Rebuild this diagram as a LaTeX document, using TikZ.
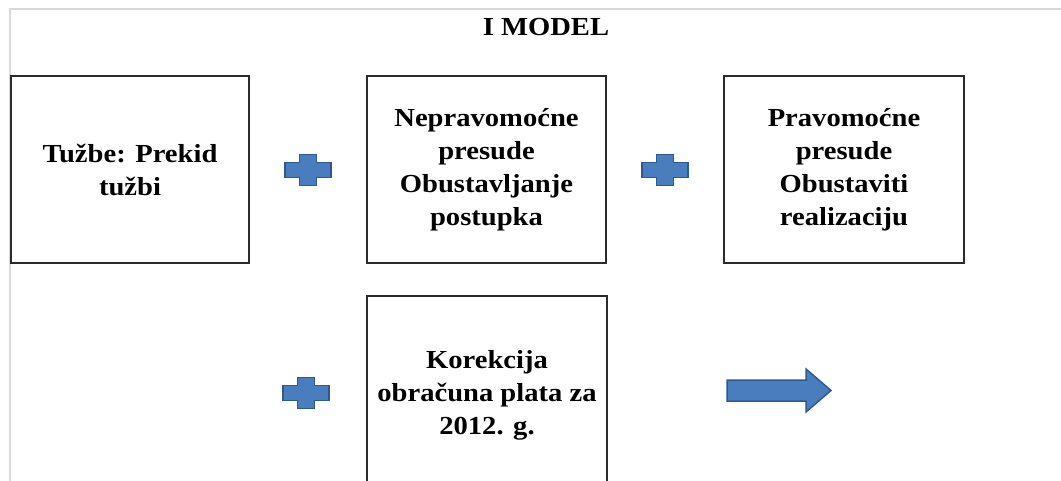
\documentclass[tikz,border=0pt]{standalone}
\usepackage{fontspec}
\setmainfont{Liberation Serif}[FakeStretch=1.1]
\definecolor{frameg}{HTML}{D9D9E0}
\definecolor{boxline}{HTML}{2B2B2B}
\definecolor{shapefill}{HTML}{4A7DBD}
\definecolor{shapeline}{HTML}{2F5A8E}
\tikzset{
  textbox/.style={draw=boxline, line width=2pt, fill=white, align=center,
    font=\fontsize{26}{33}\selectfont\bfseries, text=black, inner sep=0pt},
  titlefont/.style={font=\fontsize{26}{30}\selectfont\bfseries, text=black, inner sep=0pt},
  blueshape/.style={fill=shapefill, draw=shapeline, line width=1.5pt, line join=miter},
  plussign/.pic={
    \path[blueshape] (-23,-7.5) -- (-8.5,-7.5) -- (-8.5,-15.5) -- (8.5,-15.5) -- (8.5,-7.5)
      -- (23,-7.5) -- (23,7.5) -- (8.5,7.5) -- (8.5,15.5) -- (-8.5,15.5) -- (-8.5,7.5)
      -- (-23,7.5) -- cycle;
  }
}
\begin{document}
\begin{tikzpicture}[x=1pt,y=-1pt]
\clip (0,0) rectangle (1061,481);
\fill[white] (0,0) rectangle (1061,481);
% light frame
\draw[frameg, line width=2pt] (10,481) -- (10,9.5) -- (1061,9.5);
% title
\node[titlefont, anchor=base] (title) at (546,36) {I MODEL};
% boxes
\node[textbox, minimum width=238pt, minimum height=187pt] (b1) at (130,169.5)
  {Tužbe: Prekid\\tužbi};
\node[textbox, minimum width=239pt, minimum height=187pt] (b2) at (486.5,169.5)
  {Nepravomoćne\\presude\\Obustavljanje\\postupka};
\node[textbox, minimum width=240pt, minimum height=187pt] (b3) at (844,169.5)
  {Pravomoćne\\presude\\Obustaviti\\realizaciju};
\node[textbox, minimum width=240pt, minimum height=198pt] (b4) at (487,395)
  {Korekcija\\obračuna plata za\\2012. g.};
% plus signs
\pic at (308,170) {plussign};
\pic at (665,170) {plussign};
\pic at (306,393) {plussign};
% block arrow
\path[blueshape] (727,380) -- (806,380) -- (806,369) -- (831,390.5) -- (806,412)
  -- (806,401) -- (727,401) -- cycle;
\end{tikzpicture}
\end{document}
